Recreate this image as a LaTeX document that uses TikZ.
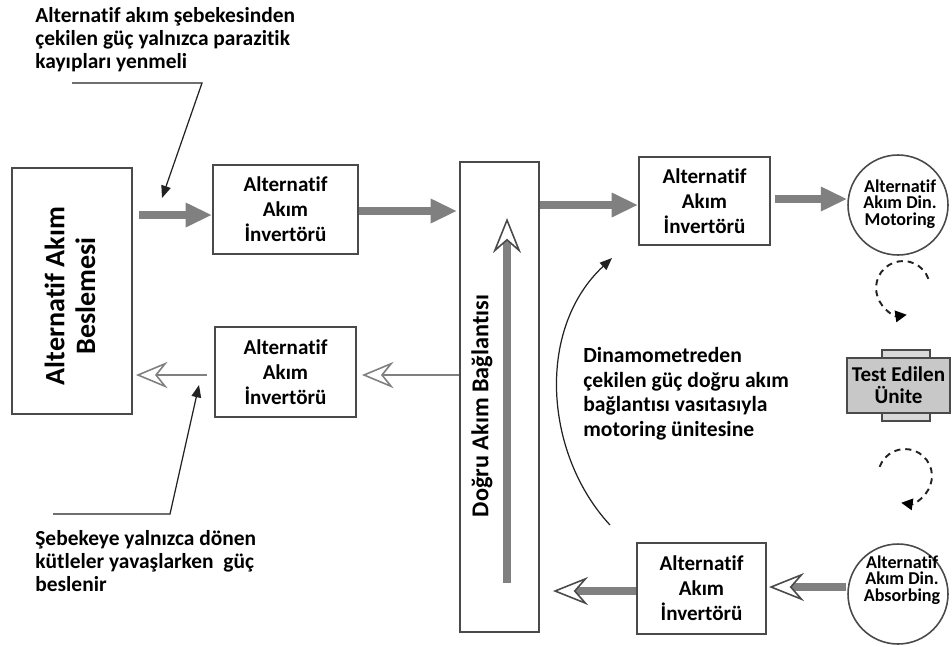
\documentclass[tikz,border=0pt]{standalone}
\usepackage{fontspec}
\setmainfont{Carlito}[Ligatures=NoCommon]
\usetikzlibrary{arrows.meta,calc}
\definecolor{arrowgray}{HTML}{808080}
\definecolor{boxline}{HTML}{4A4A4A}
\definecolor{unitgray}{HTML}{C8C8C8}
\definecolor{inkblack}{HTML}{222222}
\begin{document}
\begin{tikzpicture}[x=0.02cm,y=-0.02cm,
  box/.style={draw=boxline, line width=1.1pt, fill=white, inner sep=0pt},
  invbox/.style={box, align=center, font=\bfseries\fontsize{12}{14.2}\selectfont},
  dyn/.style={circle, draw=boxline, line width=0.9pt, minimum size=2cm, inner sep=0pt, fill=white},
  dyntext/.style={align=center, inner sep=0pt, font=\bfseries\fontsize{10.3}{9.4}\selectfont},
  note/.style={draw=inkblack, line width=0.7pt, -{Triangle[length=7pt,width=5.5pt]}},
  noteline/.style={anchor=north west, align=left, inner sep=0pt, font=\bfseries\fontsize{12.2}{13}\selectfont},
  bigflow/.style={draw=arrowgray, line width=4pt, -{Triangle[length=15pt,width=13pt,color=arrowgray]}},
  thinback/.style={draw=arrowgray, line width=1.2pt, -{Stealth[length=18pt,width=15pt,inset=6pt,color=arrowgray,fill=white,line width=0.9pt]}},
  thickback/.style={draw=arrowgray, line width=4pt, -{Stealth[length=20pt,width=16pt,inset=7pt,color=boxline,fill=white,line width=0.9pt]}},
  loop/.style={draw=inkblack, line width=1.1pt, dash pattern=on 3.5pt off 2.8pt, -{Triangle[length=6.5pt,width=6.5pt,color=black]}}
]
\useasboundingbox (0,0) rectangle (952,646);

% boxes
\node[box, minimum width=2.4cm, minimum height=4.92cm] (supply) at (72,291) {};
\node[rotate=90, align=center, inner sep=0pt, font=\bfseries\fontsize{16}{17.5}\selectfont] (supplytxt) at (70,296) {Alternatif Akım\\Beslemesi};

\node[box, minimum width=1.58cm, minimum height=9.4cm] (dc) at (499.5,397) {};
\node[rotate=90, inner sep=0pt, font=\bfseries\fontsize{13.8}{16}\selectfont] (dctxt) at (482,406) {Doğru Akım Bağlantısı};

\node[invbox, minimum width=2.9cm, minimum height=1.78cm] (inv1) at (285.5,209.5) {Alternatif\\Akım\\İnvertörü};
\node[invbox, minimum width=2.82cm, minimum height=1.8cm] (inv2) at (285.5,372) {Alternatif\\Akım\\İnvertörü};
\node[invbox, minimum width=2.62cm, minimum height=1.76cm] (inv3) at (704.5,201) {Alternatif\\Akım\\İnvertörü};
\node[invbox, minimum width=2.58cm, minimum height=1.82cm] (inv4) at (701.5,588.5) {Alternatif\\Akım\\İnvertörü};

% dynamometers
\node[dyn] (mot) at (898,205) {};
\node[dyntext] (mottxt) at (900,204) {Alternatif\\Akım Din.\\Motoring};
\node[dyn] (abs) at (898,594) {};
\node[dyntext] (abstxt) at (902,580) {Alternatif\\Akım Din.\\Absorbing};

% test unit
\draw[draw=boxline, line width=0.9pt, fill=unitgray!70] (882,350) rectangle (930,358);
\draw[draw=boxline, line width=0.9pt, fill=unitgray!70] (882,413) rectangle (930,421);
\node[box, fill=unitgray, minimum width=2.07cm, minimum height=1.1cm, align=center,
      font=\bfseries\fontsize{12}{12.5}\selectfont] (test) at (898.5,385.5) {Test Edilen\\Ünite};

% power flow arrows
\draw[bigflow] ($(supply.east|-0,215)+(6,0)$) -- (inv1.west|-0,215);
\draw[bigflow] (inv1.east|-0,211) -- ($(dc.west|-0,211)+(-2,0)$);
\draw[bigflow] (dc.east|-0,205) -- (inv3.west|-0,205);
\draw[bigflow] ($(inv3.east|-0,199)+(4,0)$) -- (mot.west|-0,199);

\draw[thinback] (dc.west|-0,375) -- ($(inv2.east|-0,375)+(5,0)$);
\draw[thinback] ($(inv2.west|-0,375)+(-7,0)$) -- ($(supply.east|-0,375)+(3,0)$);

\draw[thickback] ($(abs.west|-0,587)+(-1,0)$) -- ($(inv4.east|-0,587)+(2,0)$);
\draw[thickback] (inv4.west|-0,591) -- ($(dc.east|-0,591)+(13,0)$);
\coordinate (dcbot) at (507,583);
\coordinate (dctop) at (507,218);
\draw[thickback] (dcbot) -- (dctop);

% annotations
\node[noteline] (t1) at (35,7) {Alternatif akım şebekesinden\\çekilen güç yalnızca parazitik\\kayıpları yenmeli};
\node[noteline] (t2) at (35,530) {Şebekeye yalnızca dönen\\kütleler yavaşlarken\ \ güç\\beslenir};
\node[anchor=north west, align=left, inner sep=0pt, font=\bfseries\fontsize{12.3}{14}\selectfont] (t3) at (583,347) {Dinamometreden\\çekilen güç doğru akım\\bağlantısı vasıtasıyla\\motoring ünitesine};

\coordinate (n1a) at (72,83);
\coordinate (n1b) at (202,83);
\coordinate (n1c) at (162,198);
\draw[note] (n1a) -- (n1b) -- (n1c);
\coordinate (n2a) at (53,514);
\coordinate (n2b) at (170,514);
\coordinate (n2c) at (199,385);
\draw[note] (n2a) -- (n2b) -- (n2c);

\coordinate (c1) at (610,525);
\coordinate (c2) at (612,258);
\draw[note] (c1) .. controls (545,455) and (535,330) .. (c2);

% rotation loops
\coordinate (l1) at (928.4,278.8);
\draw[loop] (l1) arc[start angle=20, end angle=278, radius=0.54cm];
\coordinate (l2) at (879.6,466.8);
\draw[loop] (l2) arc[start angle=160, end angle=-98, radius=0.54cm];
\end{tikzpicture}
\end{document}
